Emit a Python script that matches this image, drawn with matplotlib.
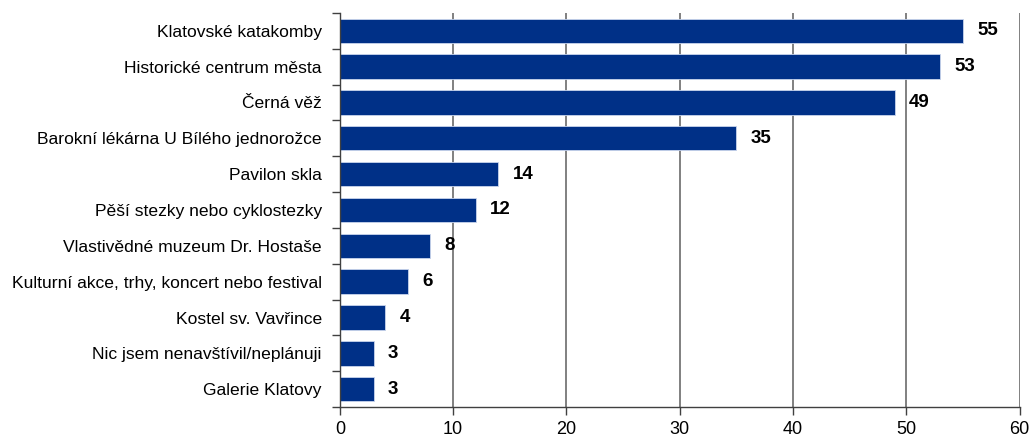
import matplotlib
matplotlib.use("Agg")
import matplotlib.pyplot as plt
import numpy as np

categories = [
    "Klatovské katakomby",
    "Historické centrum města",
    "Černá věž",
    "Barokní lékárna U Bílého jednorožce",
    "Pavilon skla",
    "Pěší stezky nebo cyklostezky",
    "Vlastivědné muzeum Dr. Hostaše",
    "Kulturní akce, trhy, koncert nebo festival",
    "Kostel sv. Vavřince",
    "Nic jsem nenavštívil/neplánuji",
    "Galerie Klatovy",
]
values = [55, 53, 49, 35, 14, 12, 8, 6, 4, 3, 3]
xticks = [0, 10, 20, 30, 40, 50, 60]

plt.rcParams["font.family"] = ["Liberation Sans", "DejaVu Sans"]

fig = plt.figure(figsize=(10.33, 4.43), dpi=100)
ax = fig.add_axes([0.329, 0.081, 0.658, 0.890])

y = np.arange(len(categories))
ax.barh(y, values, height=0.68, color="#003087", edgecolor="#c8d4ec", linewidth=0.6, zorder=3)

# value labels just right of each bar
for yi, v in zip(y, values):
    ax.text(v + 1.25, yi, str(v), va="center", ha="left", fontsize=13.5,
            fontweight="bold", zorder=4)

ax.set_ylim(len(categories) - 0.5, -0.5)
ax.set_xlim(0, 60)
ax.set_xticks(xticks)
ax.set_xticklabels([str(t) for t in xticks], fontsize=13)
ax.set_yticks(y)
ax.set_yticklabels(categories, fontsize=12.6)
ax.set_yticks(np.arange(-0.5, len(categories), 1.0), minor=True)
ax.tick_params(axis="y", which="major", length=0, pad=13)
ax.tick_params(axis="y", which="minor", length=6, color="#404040", width=1)
ax.tick_params(axis="x", length=6, color="#404040", width=1, pad=4)

ax.grid(axis="x", color="#808080", linewidth=1.4, zorder=0)
for s in ["top", "right"]:
    ax.spines[s].set_visible(False)
for s in ["left", "bottom"]:
    ax.spines[s].set_color("#404040")
    ax.spines[s].set_linewidth(1)
    ax.spines[s].set_zorder(5)

fig.savefig("out.png", dpi=100)
